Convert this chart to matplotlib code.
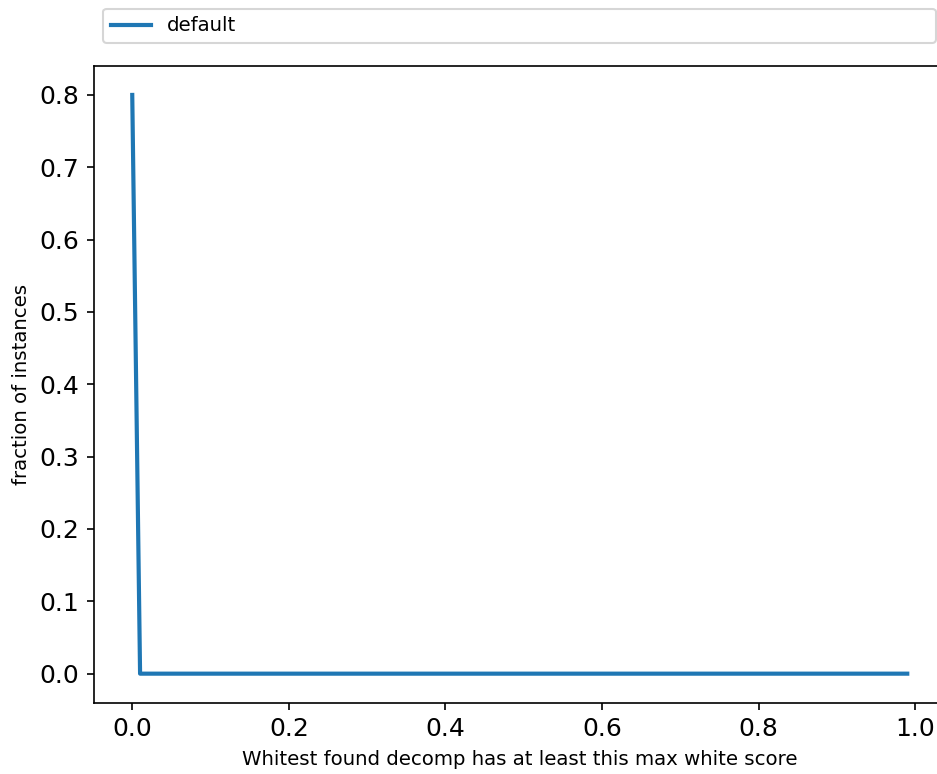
import numpy as np
import matplotlib
matplotlib.use("Agg")
import matplotlib.pyplot as plt

# threshold on max white score (x) and fraction of instances reaching it (y)
thresholds = np.round(np.arange(0.0, 1.0, 0.01), 2)
frac_default = [0.8] + [0.0] * 99

dpi = 150
fig = plt.figure(figsize=(937 / dpi, 774 / dpi), dpi=dpi)
# axes extends a little past the right edge, like the original crop
ax = fig.add_axes([93.5 / 937, 1 - 702.6 / 774, 852.5 / 937, 636.6 / 774])

ax.plot(thresholds, frac_default, color="#1f77b4", linewidth=2, label="default")

ax.set_xlabel("Whitest found decomp has at least this max white score", fontsize=9.5)
ax.set_ylabel("fraction of instances", fontsize=9.5)
ax.tick_params(labelsize=12)
ax.legend(bbox_to_anchor=(0.0, 1.02, 1.0, 0.102), loc=3, ncol=1, mode="expand",
          fontsize=9.5)

plt.savefig("out.png", dpi=dpi)
